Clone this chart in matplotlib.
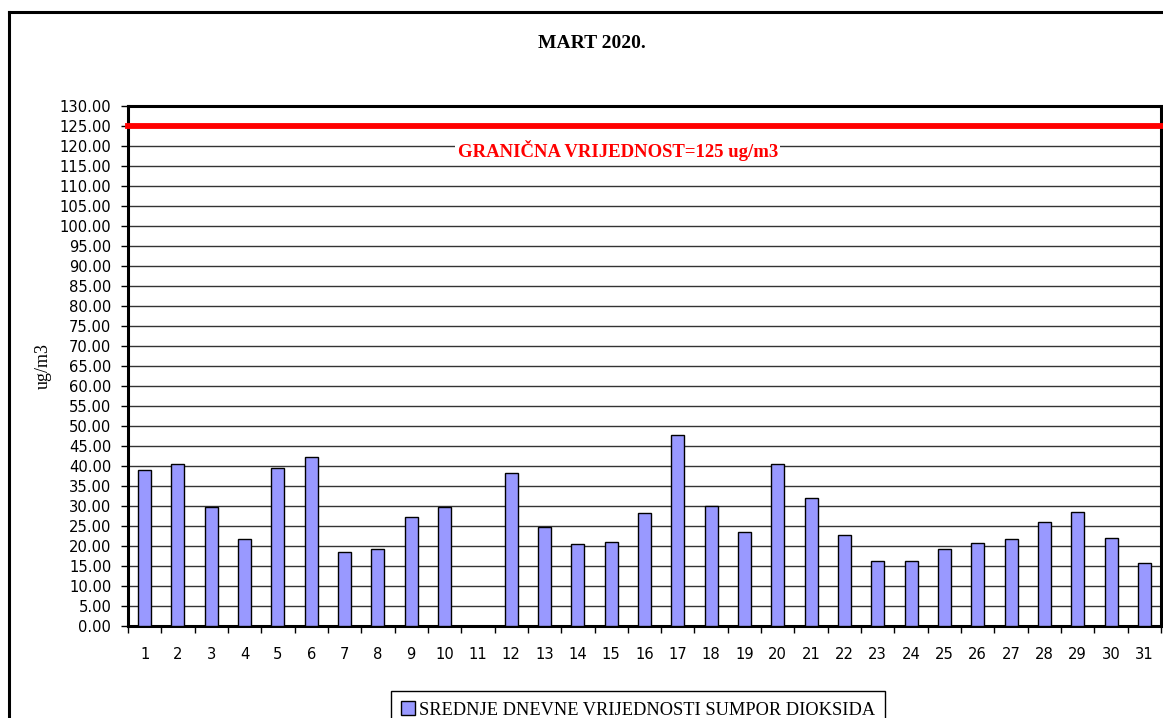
import matplotlib
matplotlib.use("Agg")
import matplotlib.pyplot as plt
from matplotlib.patches import Patch
from matplotlib.lines import Line2D
import matplotlib.transforms as mtransforms

# daily mean SO2 values, March 2020 (day 11 has no data)
days = [str(d) for d in range(1, 32)]
so2 = [39.0, 40.4, 29.7, 21.7, 39.6, 42.2, 18.6, 19.2, 27.3, 29.7,
       0.0, 38.3, 24.8, 20.4, 21.1, 28.3, 47.7, 30.1, 23.4, 40.4,
       31.9, 22.8, 16.2, 16.2, 19.2, 20.8, 21.8, 25.9, 28.6, 22.1, 15.7]
limit = 125
y_ticks = list(range(0, 131, 5))

W, H = 1163, 718
fig = plt.figure(figsize=(W / 100, H / 100), dpi=100)
ax = fig.add_axes([128 / W, 1 - 626 / H, 1033 / W, 520 / H])

x = list(range(len(days)))
ax.bar(x, so2, width=0.39, color="#9999FF", edgecolor="black", linewidth=1.0, zorder=3)

ax.set_xlim(-0.5, len(days) - 0.5)
ax.set_ylim(0, 130)
ax.set_yticks(y_ticks)
ax.set_yticklabels([f"{v:.2f}" for v in y_ticks])
ax.yaxis.grid(True, color="#333333", linewidth=1.0, zorder=1)
ax.set_axisbelow(True)

# ticks at category borders, labels in the middle
ax.set_xticks([i - 0.5 for i in range(len(days) + 1)])
ax.set_xticklabels([])
ax.set_xticks(x, minor=True)
ax.set_xticklabels(days, minor=True)
ax.tick_params(axis="x", which="major", length=5, width=1, direction="out")
ax.tick_params(axis="x", which="minor", length=0, pad=15)
ax.tick_params(axis="y", length=5, width=1, direction="out", pad=7)
for lab in ax.get_xticklabels(minor=True) + ax.get_yticklabels():
    lab.set_fontfamily("DejaVu Sans")
    lab.set_fontsize(10.6)

for sp in ax.spines.values():
    sp.set_linewidth(2.2)
    sp.set_color("black")

# limit value line
ax.axhline(limit, xmin=0, xmax=1.003, color="#FF0000", linewidth=4.2, zorder=4, clip_on=False)
trans = mtransforms.blended_transform_factory(ax.transAxes, ax.transData)
ax.text(0.474, 119, "GRANIČNA VRIJEDNOST=125 ug/m3", transform=trans, ha="center", va="center",
        color="#FF0000", fontsize=13.5, fontweight="bold", family="Liberation Serif",
        bbox=dict(facecolor="white", edgecolor="none", pad=1.5), zorder=5)

fig.text(591.5 / W, 1 - 44 / H, "MART 2020.", ha="center", va="center",
         fontsize=14, fontweight="bold", family="Liberation Serif")
fig.text(43 / W, 1 - 366 / H, "ug/m3", rotation=90, ha="center", va="center",
         fontsize=13, family="Liberation Serif")

handle = Patch(facecolor="#9999FF", edgecolor="black", linewidth=1.0)
leg = fig.legend([handle], ["SREDNJE DNEVNE VRIJEDNOSTI SUMPOR DIOKSIDA"],
                 loc="center", bbox_to_anchor=(638 / W, 1 - 710 / H),
                 frameon=True, fancybox=False, shadow=False, framealpha=1,
                 edgecolor="black", handlelength=0.75, handleheight=0.75,
                 handletextpad=0.25, borderpad=0.55, borderaxespad=0,
                 prop={"family": "Liberation Serif", "size": 13.2})
leg.get_frame().set_linewidth(1.0)

# outer border of the chart
fig.add_artist(Line2D([9 / W, 9 / W], [-0.05, 1 - 12 / H], color="black", linewidth=2.2,
                      transform=fig.transFigure))
fig.add_artist(Line2D([9 / W, 1.05], [1 - 12 / H, 1 - 12 / H], color="black", linewidth=2.2,
                      transform=fig.transFigure))

fig.savefig("out.png", dpi=100)
